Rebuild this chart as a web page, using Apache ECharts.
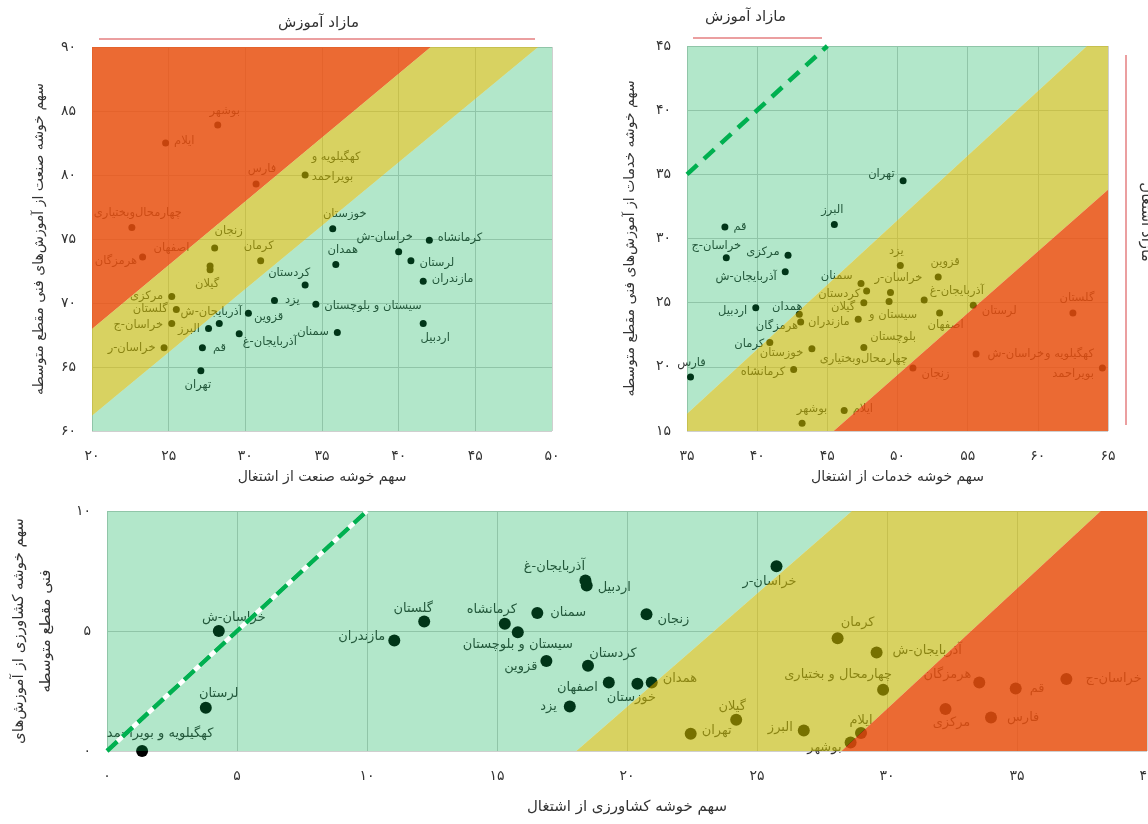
<!DOCTYPE html>
<html><head><meta charset="utf-8">
<script src="https://cdn.jsdelivr.net/npm/echarts@6/dist/echarts.min.js"></script>
<style>html,body{margin:0;padding:0;background:#fff}#c{width:1148px;height:824px}</style>
</head><body><div id="c"></div>
<script>
// ---------------- DATA ----------------
// Industry cluster (top-left)
const industryNames = ['بوشهر','ایلام','فارس','کهگیلویه و\nبویراحمد','چهارمحال‌وبختیاری','خوزستان','کرمانشاه','هرمزگان','زنجان','اصفهان','گیلان','کرمان','همدان','خراسان-ش','لرستان','مازندران','کردستان','یزد','سیستان و بلوچستان','مرکزی','گلستان','خراسان-ج','خراسان-ر','آذربایجان-ش','قزوین','البرز','آذربایجان-غ','سمنان','اردبیل','قم','تهران'];
const industryEmployment = [28.2,24.8,30.7,33.9,22.6,35.7,42.0,23.3,28.0,27.7,27.7,31.0,35.9,40.0,40.8,41.6,33.9,31.9,34.6,25.2,25.5,25.2,24.7,28.3,30.2,27.6,29.6,36.0,41.6,27.2,27.1];
const industryEducation = [83.9,82.5,79.3,80.0,75.9,75.8,74.9,73.6,74.3,72.9,72.6,73.3,73.0,74.0,73.3,71.7,71.4,70.2,69.9,70.5,69.5,68.4,66.5,68.4,69.2,68.0,67.6,67.7,68.4,66.5,64.7];
const industryUpperBoundary = [[20, 67.96], [42.1, 90]];
const industryLowerBoundary = [[20, 61.2], [49.1, 90]];
const industryXTicks = ['۲۰','۲۵','۳۰','۳۵','۴۰','۴۵','۵۰'];
const industryYTicks = ['۶۰','۶۵','۷۰','۷۵','۸۰','۸۵','۹۰'];

// Services cluster (top-right)
const servicesNames = ['تهران','البرز','قم','خراسان-ج','مرکزی','آذربایجان-ش','یزد','قزوین','سمنان','خراسان-ر','کردستان','گیلان','سیستان و\nبلوچستان','آذربایجان-غ','لرستان','اصفهان','گلستان','اردبیل','همدان','هرمزگان','مازندران','کرمان','خوزستان','چهارمحال‌وبختیاری','خراسان-ش','کرمانشاه','زنجان','کهگیلویه و\nبویراحمد','فارس','ایلام','بوشهر'];
const servicesEmployment = [50.4,45.5,37.7,37.8,42.2,42.0,50.2,52.9,47.4,49.5,47.8,47.6,49.4,51.9,55.4,53.0,62.5,39.9,43.0,43.1,47.2,40.9,43.9,47.6,55.6,42.6,51.1,64.6,35.25,46.2,43.2];
const servicesEducation = [34.5,31.1,30.9,28.5,28.7,27.4,27.9,27.0,26.5,25.8,25.9,25.0,25.1,25.2,24.8,24.2,24.2,24.6,24.1,23.5,23.7,21.9,21.4,21.5,21.0,19.8,19.9,19.9,19.2,16.6,15.6];
const servicesUpperBoundary = [[35, 16.35], [63.5, 45]];
const servicesLowerBoundary = [[45.45, 15], [65, 33.8]];
const servicesParity = [[35, 35], [45, 45]];
const servicesXTicks = ['۳۵','۴۰','۴۵','۵۰','۵۵','۶۰','۶۵'];
const servicesYTicks = ['۱۵','۲۰','۲۵','۳۰','۳۵','۴۰','۴۵'];

// Agriculture cluster (bottom)
const agriNames = ['خراسان-ش','لرستان','کهگیلویه و بویراحمد','مازندران','گلستان','کرمانشاه','سیستان و بلوچستان','سمنان','قزوین','یزد','آذربایجان-غ','اردبیل','زنجان','کردستان','اصفهان','خوزستان','همدان','تهران','خراسان-ر','کرمان','آذربایجان-ش','چهارمحال و بختیاری','گیلان','البرز','ایلام','بوشهر','هرمزگان','قم','خراسان-ج','مرکزی','فارس'];
const agriEmployment = [4.3,3.8,1.35,11.05,12.2,15.3,15.8,16.55,16.9,17.8,18.4,18.45,20.75,18.5,19.3,20.4,20.95,22.45,25.75,28.1,29.6,29.85,24.2,26.8,29.0,28.6,33.55,34.95,36.9,32.25,34.0];
const agriEducation = [5.0,1.8,0.0,4.6,5.4,5.3,4.95,5.75,3.75,1.85,7.1,6.9,5.7,3.55,2.85,2.8,2.85,0.72,7.7,4.7,4.1,2.55,1.3,0.85,0.75,0.35,2.85,2.6,3.0,1.75,1.4];
const agriUpperBoundary = [[18.05, 0], [28.65, 10]];
const agriLowerBoundary = [[28.25, 0], [38.22, 10]];
const agriParity = [[0, 0], [10, 10]];
const agriXTicks = ['۰','۵','۱۰','۱۵','۲۰','۲۵','۳۰','۳۵','۴۰'];
const agriYTicks = ['۰','۵','۱۰'];

// ---------------- STYLE ----------------
const FONT = 'DejaVu Sans';
const GREEN = 'rgba(0,176,80,0.3)';
const YELLOW = 'rgba(192,182,0,0.62)';
const RED = 'rgba(232,80,15,0.85)';

// label placement: [position, dx, dy, lineHeight]
const industryLabels = {
 'بوشهر':['top',7,0],'ایلام':['right',0,-2],'فارس':['top',6,0],'کهگیلویه و\nبویراحمد':['right',-2,-8,20],
 'چهارمحال‌وبختیاری':['top',6,0],'خوزستان':['top',12,0],'کرمانشاه':['right',0,-2],'هرمزگان':['left',3,4],
 'زنجان':['top',14,-2],'اصفهان':['left',-12,-18],'گیلان':['bottom',-3,0],'کرمان':['top',-2,0],'همدان':['top',7,0],
 'خراسان-ش':['top',-14,0],'لرستان':['right',0,2],'مازندران':['right',0,-2],'کردستان':['top',-16,2],'یزد':['right',2,0],
 'سیستان و بلوچستان':['right',0,2],'مرکزی':['left',0,-1],'گلستان':['left',0,0],'خراسان-ج':['left',0,2],'خراسان-ر':['left',0,0],
 'آذربایجان-ش':['top',-8,3],'قزوین':['right',-3,4],'البرز':['left',0,0],'آذربایجان-غ':['right',-5,8],'سمنان':['left',0,0],
 'اردبیل':['bottom',12,0],'قم':['right',2,0],'تهران':['bottom',-3,0]
};
const servicesLabels = {
 'تهران':['left',0,-7],'البرز':['top',-2,0],'قم':['right',0,0],'خراسان-ج':['top',-10,3],'مرکزی':['left',0,-3],
 'آذربایجان-ش':['left',0,5],'یزد':['top',-4,0],'قزوین':['top',7,0],'سمنان':['left',0,-7],'خراسان-ر':['top',8,0],
 'کردستان':['left',2,3],'گیلان':['left',0,4],'سیستان و\nبلوچستان':['bottom',4,-6,22],'آذربایجان-غ':['right',-3,-9],
 'لرستان':['right',0,6],'اصفهان':['bottom',6,-2],'گلستان':['top',4,0],'اردبیل':['left',0,3],'همدان':['top',-12,7],
 'هرمزگان':['left',6,4],'مازندران':['left',0,3],'کرمان':['left',3,2],'خوزستان':['left',0,4],'چهارمحال‌وبختیاری':['bottom',0,-3],
 'خراسان-ش':['right',3,0],'کرمانشاه':['left',0,3],'زنجان':['right',0,6],'کهگیلویه و\nبویراحمد':['left',0,-4,20],
 'فارس':['top',1,0],'ایلام':['right',0,-1],'بوشهر':['top',10,0]
};
const agriLabels = {
 'خراسان-ش':['top',15,4],'لرستان':['top',13,3],'کهگیلویه و بویراحمد':['top',18,0],'مازندران':['left',2,-4],
 'گلستان':['top',-11,5],'کرمانشاه':['top',-13,3],'سیستان و بلوچستان':['bottom',0,-5],'سمنان':['right',2,0],
 'قزوین':['left',2,6],'یزد':['left',-2,0],'آذربایجان-غ':['top',-31,4],'اردبیل':['right',0,2],'زنجان':['right',0,5],
 'کردستان':['top',25,5],'اصفهان':['left',0,5],'خوزستان':['bottom',-6,-4],'همدان':['right',0,-4],'تهران':['right',0,-3],
 'خراسان-ر':['bottom',-7,-2],'کرمان':['top',20,2],'آذربایجان-ش':['right',5,-2],'چهارمحال و بختیاری':['top',-45,2],
 'گیلان':['top',-4,4],'البرز':['left',0,-3],'ایلام':['top',0,5],'بوشهر':['left',2,5],'هرمزگان':['left',3,-8],
 'قم':['right',3,0],'خراسان-ج':['right',8,0],'مرکزی':['bottom',6,-4],'فارس':['right',5,0]
};

// ---------------- HELPERS ----------------
function lineFn(seg){ const [a,b]=seg; return x => a[1] + (x-a[0])*(b[1]-a[1])/(b[0]-a[0]); }
function clipPoly(pts, xmin, xmax, ymin, ymax){
  const edges = [
    [p=>p[0]>=xmin,(a,b)=>{const t=(xmin-a[0])/(b[0]-a[0]);return [xmin,a[1]+t*(b[1]-a[1])];}],
    [p=>p[0]<=xmax,(a,b)=>{const t=(xmax-a[0])/(b[0]-a[0]);return [xmax,a[1]+t*(b[1]-a[1])];}],
    [p=>p[1]>=ymin,(a,b)=>{const t=(ymin-a[1])/(b[1]-a[1]);return [a[0]+t*(b[0]-a[0]),ymin];}],
    [p=>p[1]<=ymax,(a,b)=>{const t=(ymax-a[1])/(b[1]-a[1]);return [a[0]+t*(b[0]-a[0]),ymax];}]
  ];
  let out = pts;
  for (const [inside, inter] of edges){
    const inp = out; out = [];
    for (let i=0;i<inp.length;i++){
      const cur = inp[i], prev = inp[(i+inp.length-1)%inp.length];
      if (inside(cur)){ if(!inside(prev)) out.push(inter(prev,cur)); out.push(cur); }
      else if (inside(prev)) out.push(inter(prev,cur));
    }
  }
  return out;
}
function bands(upper, lower, ext, colors){
  const f1 = lineFn(upper), f2 = lineFn(lower);
  const x0 = ext[0]-5, x1 = ext[1]+5, top = ext[3]+100, bot = ext[2]-100;
  const polys = [
    [[x0,f1(x0)],[x1,f1(x1)],[x1,top],[x0,top]],
    [[x0,f2(x0)],[x1,f2(x1)],[x1,f1(x1)],[x0,f1(x0)]],
    [[x0,bot],[x1,bot],[x1,f2(x1)],[x0,f2(x0)]]
  ];
  return polys.map((p,i)=>({pts: clipPoly(p, ext[0], ext[1], ext[2], ext[3]), color: colors[i]}));
}
function bandSeries(idx, polys){
  return {
    type:'custom', xAxisIndex: idx, yAxisIndex: idx, z: 5, silent: true,
    data: polys.map((p,i)=>[i]),
    renderItem: (params, api) => {
      const p = polys[params.dataIndex];
      return { type:'polygon', shape:{ points: p.pts.map(pt => api.coord(pt)) }, style:{ fill: p.color } };
    }
  };
}
function scatterSeries(idx, names, xs, ys, placement, size, fontSize){
  return {
    type:'scatter', xAxisIndex: idx, yAxisIndex: idx, z: 2, silent: true,
    symbolSize: size, itemStyle:{ color:'#000', opacity:1 },
    emphasis:{ disabled: true },
    label:{ show:true, formatter:'{b}', color:'#333', fontSize, fontFamily: FONT },
    data: names.map((n,i)=>{
      const p = placement[n] || ['right',0,0];
      const lab = { position: p[0], offset:[p[1], p[2]] };
      if (p[3]) lab.lineHeight = p[3];
      return { name: n, value:[xs[i], ys[i]], label: lab };
    })
  };
}
function parityLine(idx, pts, style, z){
  return { type:'line', xAxisIndex: idx, yAxisIndex: idx, z, silent:true, symbol:'none',
    data: pts, lineStyle: style, animation:false };
}
function tickFmt(labels, min, step){ return v => { const k = Math.round((v-min)/step); return labels[k] !== undefined ? labels[k] : ''; }; }
function xAxis(idx, min, max, labels, name, gap, nameSize){
  return { type:'value', gridIndex: idx, min, max, interval:5,
    axisLine:{show:false}, axisTick:{show:false},
    splitLine:{ show:true, lineStyle:{ color:'#cfcfcf', width:1 } },
    axisLabel:{ formatter: tickFmt(labels, min, 5), color:'#333', fontSize:14, fontFamily: FONT, margin: 18 },
    name, nameLocation:'middle', nameGap: gap,
    nameTextStyle:{ color:'#333', fontSize: nameSize, fontFamily: FONT } };
}
function yAxis(idx, min, max, labels, name, gap, nameSize, lineHeight){
  return { type:'value', gridIndex: idx, min, max, interval:5,
    axisLine:{show:false}, axisTick:{show:false},
    splitLine:{ show:true, lineStyle:{ color:'#cfcfcf', width:1 } },
    axisLabel:{ formatter: tickFmt(labels, min, 5), color:'#333', fontSize:14, fontFamily: FONT, margin: 16 },
    name, nameLocation:'middle', nameGap: gap,
    nameTextStyle:{ color:'#333', fontSize: nameSize, fontFamily: FONT, lineHeight: lineHeight || nameSize*1.3 } };
}

// ---------------- CHART ----------------
const chart = echarts.init(document.getElementById('c'), null, { renderer:'canvas' });
const indExt = [20,50,60,90], srvExt = [35,65,15,45], agrExt = [0,40,0,10];
const option = {
  animation:false,
  textStyle:{ fontFamily: FONT },
  grid:[
    { left:92, top:47, width:460, height:384, outerBoundsMode:'none' },
    { left:687, top:46, width:421, height:385, outerBoundsMode:'none' },
    { left:107, top:511, width:1040, height:240, outerBoundsMode:'none' }
  ],
  xAxis:[
    xAxis(0, 20, 50, industryXTicks, 'سهم خوشه صنعت از اشتغال', 39, 14),
    xAxis(1, 35, 65, servicesXTicks, 'سهم خوشه خدمات از اشتغال', 39, 14),
    xAxis(2, 0, 40, agriXTicks, 'سهم خوشه کشاورزی از اشتغال', 49, 15)
  ],
  yAxis:[
    yAxis(0, 60, 90, industryYTicks, 'سهم خوشه صنعت از آموزش‌های فنی مقطع متوسطه', 44, 14),
    yAxis(1, 15, 45, servicesYTicks, 'سهم خوشه خدمات از آموزش‌های فنی مقطع متوسطه', 48, 14),
    yAxis(2, 0, 10, agriYTicks, 'سهم خوشه کشاورزی از آموزش‌های\nفنی مقطع متوسطه', 47, 15, 27)
  ],
  graphic:[
    { type:'text', left: 318-40, top: 16, style:{ text:'مازاد آموزش', fontSize:15, fill:'#333', fontFamily: FONT } },
    { type:'line', shape:{ x1:99, y1:39, x2:535, y2:39 }, style:{ stroke:'#e57f80', lineWidth:1.5 } },
    { type:'text', left: 745-40, top: 10, style:{ text:'مازاد آموزش', fontSize:15, fill:'#333', fontFamily: FONT } },
    { type:'line', shape:{ x1:693, y1:38, x2:822, y2:38 }, style:{ stroke:'#e57f80', lineWidth:1.5 } },
    { type:'line', shape:{ x1:1126, y1:55, x2:1126, y2:425 }, style:{ stroke:'#e57f80', lineWidth:1.5 } },
    { type:'text', x:1146, y:222, rotation:-Math.PI/2, style:{ text:'مازاد اشتغال', fontSize:15, fill:'#333', fontFamily: FONT, textAlign:'center', textVerticalAlign:'middle' } }
  ],
  series:[
    scatterSeries(0, industryNames, industryEmployment, industryEducation, industryLabels, 7, 11.5),
    scatterSeries(1, servicesNames, servicesEmployment, servicesEducation, servicesLabels, 7, 11.5),
    scatterSeries(2, agriNames, agriEmployment, agriEducation, agriLabels, 12, 13),
    bandSeries(0, bands(industryUpperBoundary, industryLowerBoundary, indExt, [RED, YELLOW, GREEN])),
    bandSeries(1, bands(servicesUpperBoundary, servicesLowerBoundary, srvExt, [GREEN, YELLOW, RED])),
    bandSeries(2, bands(agriUpperBoundary, agriLowerBoundary, agrExt, [GREEN, YELLOW, RED])),
    parityLine(1, servicesParity, { color:'#00b050', width:4.5, type:[14,9] }, 6),
    parityLine(2, agriParity, { color:'#ffffff', width:4.5, type:'solid' }, 6),
    parityLine(2, agriParity, { color:'#00b050', width:4.5, type:[14,7] }, 7)
  ]
};
chart.setOption(option);
</script></body></html>
